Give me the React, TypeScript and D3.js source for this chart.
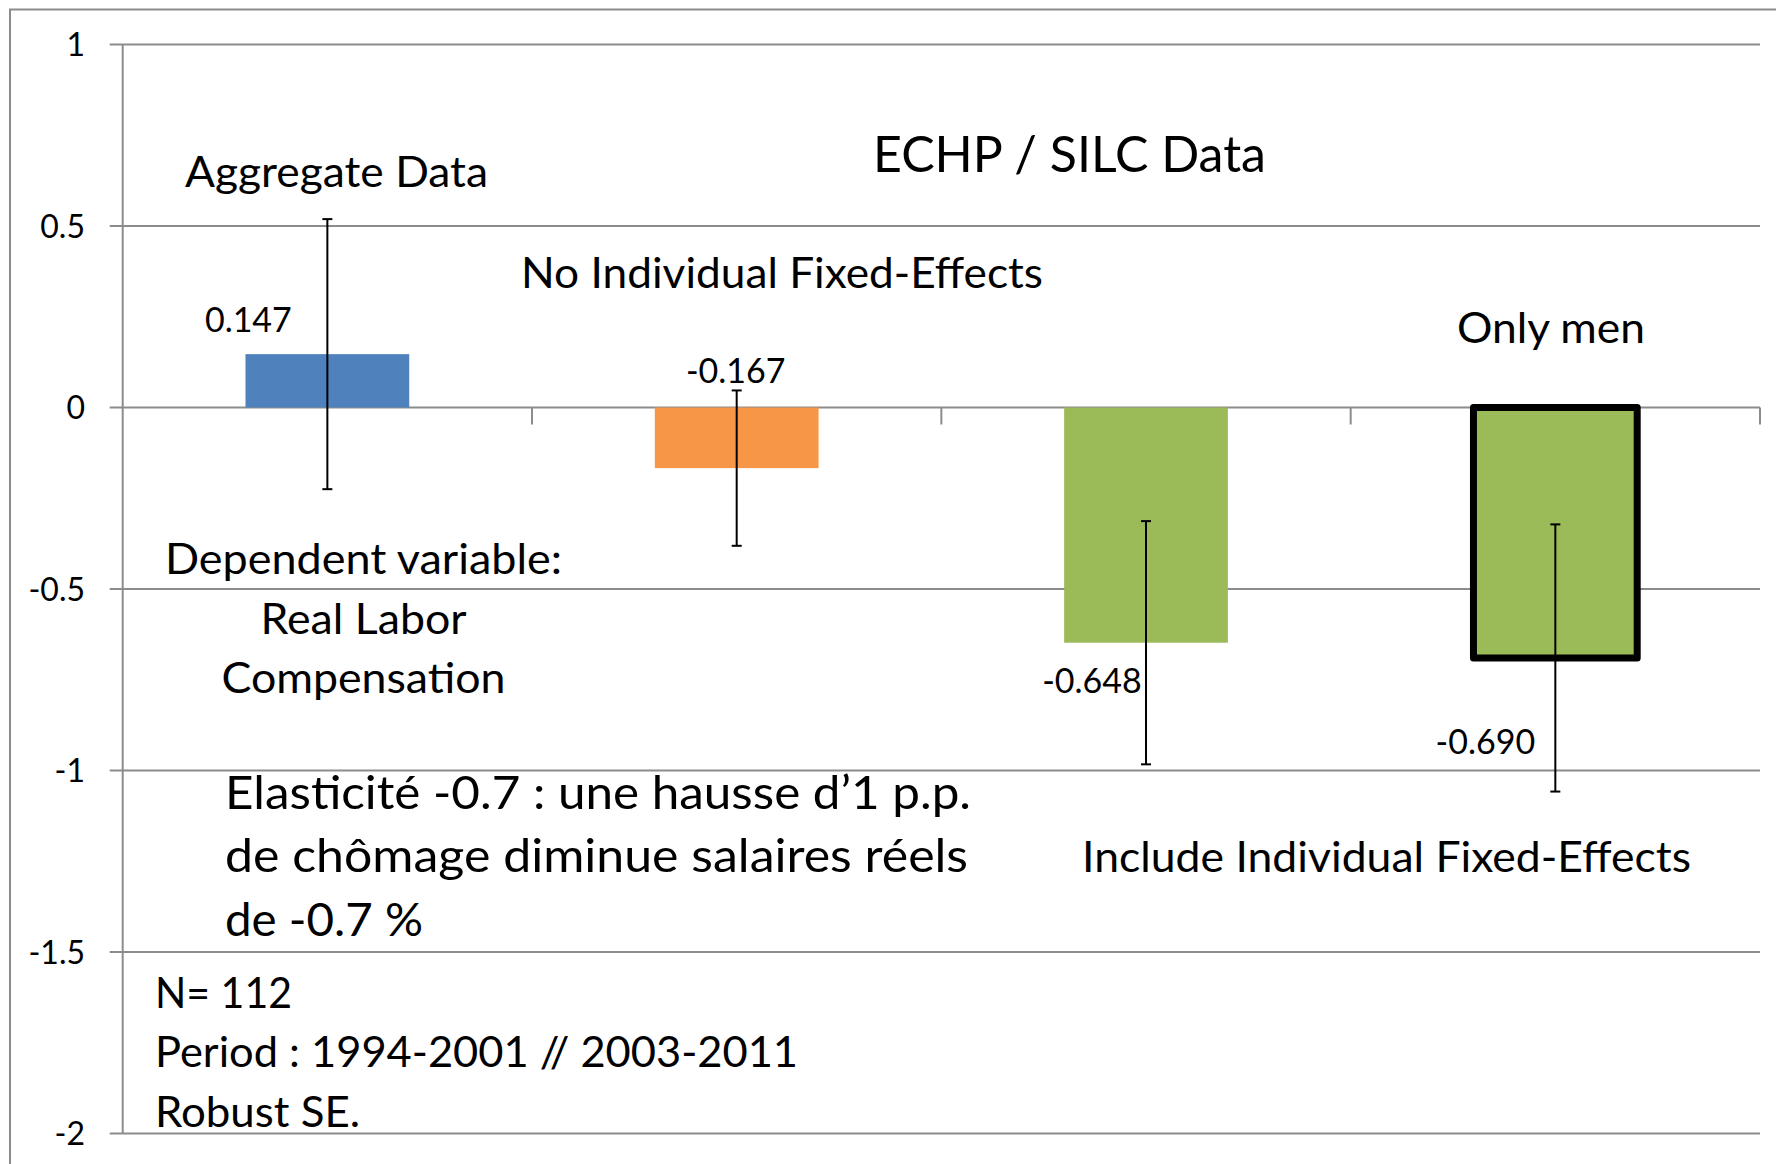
import React, { useEffect, useRef } from 'react';
import * as d3 from 'd3';

// Chart data
const categories = ['Aggregate Data', 'No Individual Fixed-Effects', 'Include Individual Fixed-Effects', 'Only men'];
const estimates = [0.147, -0.167, -0.648, -0.69];
const errors = [0.372, 0.214, 0.335, 0.368];
const valueLabels = ['0.147', '-0.167', '-0.648', '-0.690'];
const barColors = ['#4f81bd', '#f79646', '#9bbb59', '#9bbb59'];
const highlighted = [false, false, false, true];
const yTicks = [1, 0.5, 0, -0.5, -1, -1.5, -2];

// Free text on the chart
const notes = [
  { text: 'ECHP / SILC Data', x: 873, y: 172, size: 51, len: 393 },
  { text: 'Aggregate Data', x: 185, y: 187, size: 43, len: 303 },
  { text: 'No Individual Fixed-Effects', x: 521, y: 288, size: 43, len: 522 },
  { text: 'Only men', x: 1457, y: 343, size: 43, len: 188 },
  { text: 'Include Individual Fixed-Effects', x: 1082, y: 872, size: 43, len: 609 },
  { text: 'Elasticité -0.7 : une hausse d\u20191 p.p.', x: 225, y: 809, size: 47, len: 746 },
  { text: 'de chômage diminue salaires réels', x: 225, y: 872, size: 47, len: 743 },
  { text: 'de -0.7 %', x: 225, y: 936, size: 47, len: 198 },
  { text: 'N= 112', x: 155, y: 1008, size: 43, len: 137 },
  { text: 'Period : 1994-2001 // 2003-2011', x: 155, y: 1067, size: 43, len: 643 },
  { text: 'Robust SE.', x: 155, y: 1127, size: 43, len: 205 },
];

const depVar = [
  { text: 'Dependent variable:', y: 574, len: 397 },
  { text: 'Real Labor', y: 634, len: 206 },
  { text: 'Compensation', y: 693, len: 284 },
];

// value label offsets from the bar end (manually placed in the original)
const labelOffsets = [
  { dx: -79, dy: -22 },
  { dx: -1, dy: -85 },
  { dx: -54, dy: 50 },
  { dx: -70, dy: 96 },
];

const FONT = 'Lato, Carlito, Calibri, sans-serif';

const App = () => {
  const chartRef = useRef<SVGSVGElement | null>(null);

  useEffect(() => {
    if (!chartRef.current) return;
    const svg = d3.select(chartRef.current);
    svg.selectAll('*').remove();

    const width = 1776;
    const height = 1164;
    const left = 122.7;
    const right = 1760;
    const top = 44.5;
    const bottom = 1133.5;

    const x = d3.scaleBand<string>()
      .domain(categories)
      .range([left, right])
      .paddingInner(0.6)
      .paddingOuter(0.3);

    const y = d3.scaleLinear().domain([-2, 1]).range([bottom, top]);

    svg.append('rect')
      .attr('width', width)
      .attr('height', height)
      .attr('fill', '#fff');

    // outer frame
    svg.append('rect')
      .attr('x', 10)
      .attr('y', 9.5)
      .attr('width', 1800)
      .attr('height', 1300)
      .attr('fill', 'none')
      .attr('stroke', '#8c8c8c')
      .attr('stroke-width', 2);

    // gridlines + ticks
    svg.selectAll('.grid')
      .data(yTicks)
      .enter()
      .append('line')
      .attr('x1', left - 13)
      .attr('x2', right)
      .attr('y1', d => y(d))
      .attr('y2', d => y(d))
      .attr('stroke', '#8c8c8c')
      .attr('stroke-width', 2);

    svg.selectAll('.ylab')
      .data(yTicks)
      .enter()
      .append('text')
      .attr('x', 85)
      .attr('y', d => y(d))
      .attr('dy', '0.36em')
      .attr('text-anchor', 'end')
      .style('font-family', FONT)
      .style('font-size', '32px')
      .style('fill', '#000')
      .text(d => String(d));

    // y axis line
    svg.append('line')
      .attr('x1', left)
      .attr('x2', left)
      .attr('y1', top)
      .attr('y2', bottom)
      .attr('stroke', '#8c8c8c')
      .attr('stroke-width', 2);

    // category ticks on zero line
    const step = x.step();
    const bounds = categories.map((_, i) => left + step * (i + 1));
    svg.selectAll('.xtick')
      .data(bounds)
      .enter()
      .append('line')
      .attr('x1', d => d)
      .attr('x2', d => d)
      .attr('y1', y(0))
      .attr('y2', y(0) + 17)
      .attr('stroke', '#8c8c8c')
      .attr('stroke-width', 2);

    // bars
    categories.forEach((c, i) => {
      const v = estimates[i];
      const bx = x(c) as number;
      svg.append('rect')
        .attr('x', bx)
        .attr('y', y(Math.max(0, v)))
        .attr('width', x.bandwidth())
        .attr('height', Math.abs(y(v) - y(0)))
        .attr('fill', barColors[i])
        .attr('stroke', highlighted[i] ? '#000' : 'none')
        .attr('stroke-width', highlighted[i] ? 7 : 0)
        .attr('stroke-linejoin', 'round');
    });

    // error bars
    categories.forEach((c, i) => {
      const cx = (x(c) as number) + x.bandwidth() / 2;
      const hi = y(estimates[i] + errors[i]);
      const lo = y(estimates[i] - errors[i]);
      const g = svg.append('g').attr('stroke', '#000').attr('stroke-width', 2);
      g.append('line').attr('x1', cx).attr('x2', cx).attr('y1', hi).attr('y2', lo);
      g.append('line').attr('x1', cx - 5).attr('x2', cx + 5).attr('y1', hi).attr('y2', hi);
      g.append('line').attr('x1', cx - 5).attr('x2', cx + 5).attr('y1', lo).attr('y2', lo);
    });

    // value labels
    categories.forEach((c, i) => {
      const cx = (x(c) as number) + x.bandwidth() / 2;
      svg.append('text')
        .attr('x', cx + labelOffsets[i].dx)
        .attr('y', y(estimates[i]) + labelOffsets[i].dy)
        .attr('text-anchor', 'middle')
        .style('font-family', FONT)
        .style('font-size', '34px')
        .style('fill', '#000')
        .text(valueLabels[i]);
    });

    // notes
    svg.selectAll('.note')
      .data(notes)
      .enter()
      .append('text')
      .attr('x', d => d.x)
      .attr('y', d => d.y)
      .attr('textLength', d => d.len)
      .attr('lengthAdjust', 'spacingAndGlyphs')
      .style('font-family', FONT)
      .style('font-size', d => `${d.size}px`)
      .style('fill', '#000')
      .text(d => d.text);

    svg.selectAll('.dep')
      .data(depVar)
      .enter()
      .append('text')
      .attr('x', d => 363.5 - d.len / 2)
      .attr('y', d => d.y)
      .attr('textLength', d => d.len)
      .attr('lengthAdjust', 'spacingAndGlyphs')
      .style('font-family', FONT)
      .style('font-size', '43px')
      .style('fill', '#000')
      .text(d => d.text);
  }, []);

  return (
    <svg
      ref={chartRef}
      width={1776}
      height={1164}
      style={{ position: 'absolute', left: 0, top: 0, display: 'block' }}
    />
  );
};

export default App;
